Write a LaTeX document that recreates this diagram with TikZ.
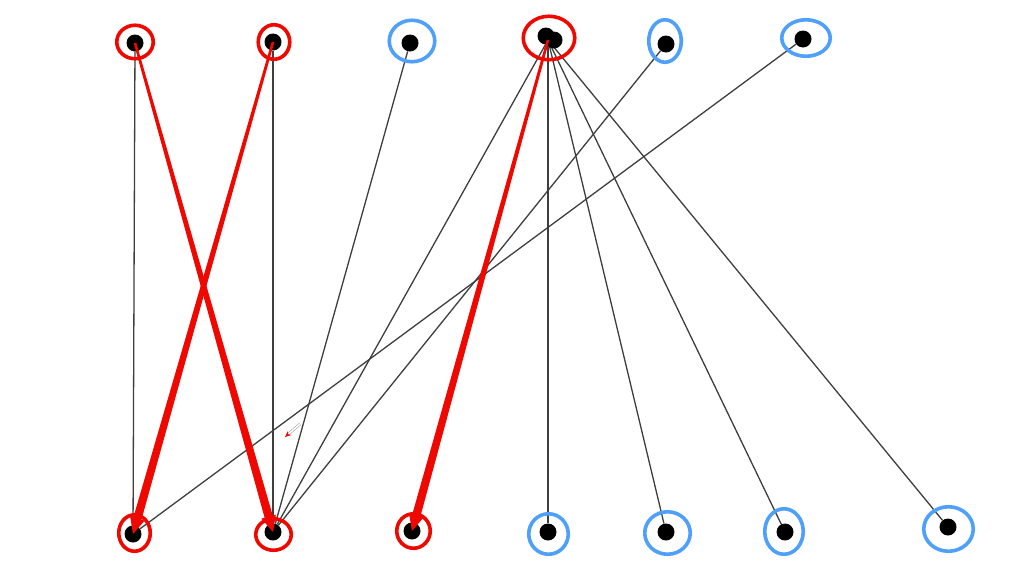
\documentclass[tikz,border=0pt]{standalone}
\usepackage{tikz}
\usetikzlibrary{shapes.geometric,calc,arrows.meta}
\definecolor{hitred}{RGB}{238,8,0}
\definecolor{hitblue}{RGB}{78,160,250}
\definecolor{linkgray}{RGB}{62,62,62}
\pgfdeclarelayer{bg}
\pgfsetlayers{bg,main}

% tapered red arrow, thin at the source and wide at the head
\newcommand{\redlink}[2]{%
\fill[hitred] let \p1=(#1), \p2=(#2), \p3=($(#2)!16pt!(#1)$),
  \n1={atan2(\y2-\y1,\x2-\x1)} in
  ($(\p1)+(\n1+90:1.3pt)$) -- ($(\p3)+(\n1+90:4.2pt)$) -- ($(\p3)+(\n1+90:7.5pt)$) -- (\p2)
  -- ($(\p3)+(\n1-90:7.5pt)$) -- ($(\p3)+(\n1-90:4.2pt)$) -- ($(\p1)+(\n1-90:1.3pt)$) -- cycle;}

\begin{document}
\begin{tikzpicture}[x=1pt,y=-1pt,
  dot/.style={circle,fill=black,inner sep=0pt,minimum size=17pt},
  hring/.style={ellipse,draw=hitred,line width=3.6pt,inner sep=0pt},
  bring/.style={ellipse,draw=hitblue,line width=3.6pt,inner sep=0pt},
  link/.style={draw=linkgray,line width=1.3pt}]
\useasboundingbox (0,0) rectangle (1022,563);

% top row
\node[hring,minimum width=36.5pt,minimum height=33.5pt] (t1r) at (135,42) {};
\node[dot] (t1) at (135,43) {};
\node[hring,minimum width=31.5pt,minimum height=34.5pt] (t2r) at (274,42) {};
\node[dot] (t2) at (273,42) {};
\node[bring,minimum width=45.5pt,minimum height=41.5pt] (t3r) at (412,41) {};
\node[dot] (t3) at (410,43) {};
\node[hring,minimum width=51.5pt,minimum height=43.5pt] (t4r) at (549,38) {};
\node[dot] (t4x) at (554,40) {};
\node[dot] (t4) at (546,36) {};
\node[bring,minimum width=32.5pt,minimum height=42.5pt] (t5r) at (665,41) {};
\node[dot] (t5) at (666,44) {};
\node[bring,minimum width=48.5pt,minimum height=36.5pt] (t6r) at (806,38) {};
\node[dot] (t6) at (803,39) {};

% bottom row
\node[hring,minimum width=31.5pt,minimum height=36.5pt] (b1r) at (134.5,533) {};
\node[dot] (b1) at (133,534) {};
\node[hring,minimum width=35.5pt,minimum height=31.5pt] (b2r) at (273.5,534.5) {};
\node[dot] (b2) at (273,532) {};
\node[hring,minimum width=33.5pt,minimum height=34.5pt] (b3r) at (413.5,531) {};
\node[dot] (b3) at (412,531) {};
\node[bring,minimum width=39.5pt,minimum height=40.5pt] (b4r) at (548.5,534) {};
\node[dot] (b4) at (548,532) {};
\node[bring,minimum width=45.5pt,minimum height=42.5pt] (b5r) at (667.5,533) {};
\node[dot] (b5) at (666,532) {};
\node[bring,minimum width=38.5pt,minimum height=45.5pt] (b6r) at (784,531.5) {};
\node[dot] (b6) at (785,532) {};
\node[bring,minimum width=49.5pt,minimum height=44.5pt] (b7r) at (948.5,529) {};
\node[dot] (b7) at (948,527) {};

\coordinate (t4c) at (548,40);

\begin{pgfonlayer}{bg}
\draw[link] (t1) -- (b1);
\draw[link] (t2) -- (b2);
\draw[link] (t3) -- (b2);
\draw[link] (t5) -- (b2);
\draw[link] (t6) -- (b1);
\foreach \b in {b2,b4,b5,b6,b7}
  \draw[link] (t4c) -- (\b);
\end{pgfonlayer}

\redlink{t1}{b2}
\redlink{t2}{b1}
\redlink{t4c}{b3}

% stray little arrow
\coordinate (s1) at (300,424);
\coordinate (s2) at (285,437);
\draw[draw=linkgray!55,double=white,double distance=1.6pt,line width=0.5pt,
  -{Stealth[hitred,length=6pt,width=5pt]}] (s1) -- (s2);
\end{tikzpicture}
\end{document}
